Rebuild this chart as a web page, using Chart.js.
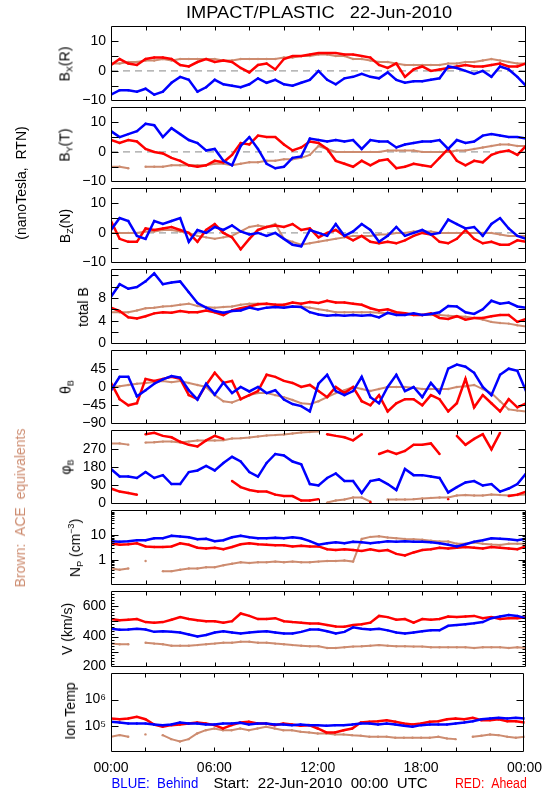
<!DOCTYPE html>
<html>
<head>
<meta charset="utf-8">
<script src="https://cdn.jsdelivr.net/npm/chart.js@4"></script>
<style>
body{margin:0;background:#fff;width:550px;height:800px;position:relative;overflow:hidden;font-family:"Liberation Sans",Arial,sans-serif;}
canvas{position:absolute;left:0;}
.t{position:absolute;white-space:nowrap;line-height:1;font-size:14px;color:#000;}
.rot{transform:translate(-50%,-50%) rotate(-90deg);}
sub{font-size:9px;vertical-align:-3px;}
sup{font-size:9px;vertical-align:6px;}
</style>
</head>
<body>
<script>
// time axis, hours from 00:00
const hours = [0,0.5,1,1.5,2,2.5,3,3.5,4,4.5,5,5.5,6,6.5,7,7.5,8,8.5,9,9.5,10,10.5,11,11.5,12,
  12.5,13,13.5,14,14.5,15,15.5,16,16.5,17,17.5,18,18.5,19,19.5,20,20.5,21,21.5,22,22.5,23,23.5,24];

// Bx (R)
const bxBlue = [-8,-6.5,-6.5,-7,-6,-8,-7,-4,-2,-3,-7,-5.5,-3,-4.5,-5,-5.5,-4.5,-2.5,-4,-3,-4.5,-5,-4,-3,0,
  -3,-4.5,-2.5,-2,-1,-2,-2.5,-0.5,-3,-4,-3.5,-3.5,-3,-2.5,1.5,1,0,-1,0,-2,1.5,0.5,-2,-5];
const bxRed = [2,4,2.5,2,4,4.5,4.5,4,2,1.5,3,4,3,3.5,3,1,-0.5,2,2.5,0.5,4,5,5,5.5,6,
  6,6,5.5,5.5,5,4.5,2,1,2.5,-2,0.5,1.5,0,0.5,1,1.5,2,1.5,1.5,2,2.5,1.5,1.5,2.5];
const bxBrown = [2.5,2.5,3,3,3.5,3.5,4,3.5,4,4,4,4,4,3.5,3.5,4,4,4,4,4,4.5,4.5,5,5,5.5,
  5.5,5,5,4,4,3.5,3,3,2.5,2,2,2,2,2,2.5,2.5,3,3,3.5,4,3.5,3,2.5,2.5];

// By (T)
const byBlue = [7,5,6,7,9.5,9,5,8,6,4,3,0.5,1,-3,-4.5,2,5,1,-4,-5.5,-5,-2,-1.5,4.5,4,
  3.5,4,3.5,4,1,4,3.5,3.5,1.5,2.5,3,3.5,3.5,4,1,4,3,3.5,5.5,6,5.5,5,5,4.5];
const byRed = [4,3,4,3.5,1,0,-0.5,-2,-3,-4.5,-5,-4.5,-3,-3.5,-1,3,2.5,5.5,5,5,2.5,0.5,1.5,3.5,3,
  1,-3,-4,-5,-3,-4.5,-3,-2.5,-5.5,-5,-4,-4.5,-5,-2,1,-3,-4.5,-3,-3.5,-1,0,0.5,-1,2];
const byBrown = [-5,-5,-5.5,null,-5,-5,-5,-4.5,-4.5,-4.5,-4.5,-4.5,-4,-4,-4.5,-4,-3.5,-3.5,-3,-3,-2.5,-2.5,-2,-1,2,
  1,0,0,0,0,0,0,0.5,0.5,0.5,0.5,0,0,0,0,0.5,0.5,1,1.5,2,2.5,2.5,2,2];

// Bz (N)
const bzBlue = [1,5,4,-1,-2,4,3,4,5,-3,1,0,2,1,2.5,0.5,-0.5,0,-1,0,-2,-4,-4.5,1,0,
  -1,3,-1,0.5,3,1,-3,-1,2,-1,0,1,-0.5,0,4.5,3,1.5,2,-1,3,5,1.5,-1,-2];
const bzRed = [4,-2,-3,-3,1.5,1,1.5,2,1,0,-3,1,3,0,-1.5,-5.5,-2,1,2,2.5,2,3,1,1.5,-1.5,
  0,1,-1,-2.5,-1,-3,-3.5,-3,-3.5,-2.5,-1,0,-0.5,-3,-3.5,-2,1,-2,-3.5,-3,-4,-4,-2.5,-3];
const bzBrown = [0,0,0,0,0.5,0.5,1,1,0.5,0,-1,-1.5,-2,-1.5,-1,0.5,2,2.5,2,3,-2,-3,-4,-3.5,-3,
  -2.5,-2,-1.5,-1,-1,-1,-0.5,-0.5,0,0,0.5,0.5,0.5,0,0,0,0,0,0,0,-0.5,-1,-1,-1];

// total B
const btBlue = [8.2,10.4,9.6,9.9,10.9,12.3,10.4,10.7,10.9,9.0,7.1,6.3,5.7,5.4,5.7,5.8,6.3,6.0,6.3,6.4,6.3,6.5,6.4,5.5,5.1,
  4.9,5.0,4.9,5.0,4.9,5.0,4.6,5.4,5.0,5.0,5.3,5.0,5.2,5.5,6.6,6.5,5.5,5.2,6.0,7.5,7.0,7.2,6.5,6.3];
const btRed = [6.3,5.7,4.6,4.4,4.8,5.3,5.5,5.4,5.7,5.5,5.5,5.8,5.5,5.0,5.8,6.2,6.5,6.9,7.0,6.8,6.8,7.2,7.0,7.3,7.1,
  7.5,7.2,7.2,7.0,6.8,6.2,5.8,6.0,5.5,5.3,5.0,5.0,5.3,4.5,4.3,4.8,4.2,4.5,4.5,4.8,5.0,5.0,3.8,4.3];
const btBrown = [5.5,5.5,5.5,5.8,6.2,6.3,6.5,6.6,6.8,7.0,6.6,6.4,6.3,6.4,6.5,6.8,7.0,7.0,7.0,6.8,6.5,6.5,6.5,6.3,6.0,
  5.8,5.5,5.5,5.5,5.5,5.5,5.4,5.3,5.3,5.3,5.2,5.0,5.0,5.0,4.9,4.8,4.7,4.5,4.2,3.8,3.6,3.5,3.2,3.0];

// theta B
const thBlue = [-8,25,25,-23,-8,8,19,27,23,-8,-31,8,-19,11,-15,0,-11,0,-15,-8,-31,-42,-47,-60,8,
  30,-10,-20,-10,25,-25,-40,0,30,-10,0,-25,10,-15,45,55,50,35,0,-20,30,45,40,-10];
const thRed = [10,-30,-45,-40,20,15,20,25,20,-20,-30,5,35,10,15,-30,-20,-10,30,25,15,10,0,5,-10,
  -25,0,-15,0,-35,-45,-20,-60,-40,-30,-30,-45,-20,-30,-60,-40,20,-50,-20,-40,-60,-30,-50,-40];
const thBrown = [0,2,5,8,10,12,15,12,15,10,5,0,-20,-35,-38,-30,-20,-15,-15,-20,-25,-32,-40,-42,-35,
  -25,-15,-8,0,-5,-10,-5,0,0,0,-2,-5,-5,-5,-5,0,2,5,-5,-15,-35,-55,-58,-60];

// phi B
const phBlue = [170,133,133,126,155,126,140,96,96,155,163,185,163,200,230,207,155,133,200,244,237,207,193,96,89,
  126,148,111,111,52,111,119,96,67,170,140,140,133,126,55,81,104,111,89,96,59,74,96,148];
const phRed = [74,59,52,44,341,348,333,326,304,289,281,311,333,318,111,81,67,59,59,44,37,37,15,15,22,
  341,333,326,311,341,7,244,259,244,259,289,289,296,244,22,333,289,318,341,267,348,37,44,59];
const phBrown = [296,296,290,null,300,302,305,305,300,305,310,310,310,312,320,322,325,330,335,337,340,345,350,352,355,
  5,15,20,30,30,10,null,20,20,20,22,25,28,30,30,40,42,40,40,45,42,40,42,45];

// Np (cm^-3)
const npBlue = [5.7,5.4,5.7,6.2,6.2,7.5,7.5,9.5,8.9,8.2,6.8,7.1,5.7,6.2,8.2,9.5,8.2,7.5,7.5,7.8,7.5,8.2,7.5,5.7,4.1,
  4.7,5.1,4.7,5.4,5.1,4.7,5.1,5.7,5.4,5.7,5.4,5.4,5.1,4.7,4.1,3.5,4.3,5.4,6.2,7.5,7.1,6.8,6.2,7.1];
const npRed = [4.7,4.1,4.3,4.7,3.5,3.3,3.3,3.5,4.7,4.1,3.1,2.9,3.1,2.7,3.3,4.3,4.7,4.3,4.1,3.9,3.9,3.5,3.7,3.5,3.5,
  2.7,2.5,2.7,2.5,2.3,2.7,2.3,2.5,1.75,1.5,2.0,2.5,2.7,3.1,2.9,3.1,3.3,3.1,2.9,3.3,3.1,2.9,2.7,3.5];
const npBrown = [0.45,0.4,0.45,null,0.9,null,0.35,0.35,0.4,0.45,0.45,0.5,0.5,0.6,0.7,0.8,0.75,0.8,0.8,0.85,0.8,0.85,0.8,0.8,0.85,
  0.9,0.9,0.95,0.85,7,8.5,9,8,7.5,7,6.8,6.5,6,5.5,5.5,4.5,4.5,5,4.5,4.2,4,4.5,4.5,4.5];

// V (km/s)
const vBlue = [451,445,447,451,447,431,435,431,427,414,400,410,427,435,427,420,427,431,435,427,420,420,431,447,447,
  435,420,431,461,451,447,451,441,427,420,427,435,441,441,471,476,482,488,496,522,533,543,537,522];
const vRed = [516,508,512,516,496,492,496,512,529,516,508,502,502,492,502,553,537,516,516,522,502,496,492,486,486,
  476,467,465,476,482,492,537,529,512,516,492,516,512,516,533,529,533,537,522,529,516,522,522,529];
const vBrown = [353,349,349,null,359,353,349,339,339,339,343,349,353,359,359,365,365,359,359,353,349,343,339,335,335,
  324,324,329,333,335,339,343,339,335,335,333,333,329,329,329,329,329,324,329,329,329,324,329,324];

// Ion temperature (K)
const tBlue = [142e3,134e3,123e3,123e3,123e3,112e3,106e3,112e3,134e3,123e3,123e3,112e3,112e3,123e3,123e3,130e3,112e3,123e3,123e3,112e3,112e3,106e3,112e3,106e3,106e3,
  100e3,106e3,106e3,112e3,123e3,123e3,112e3,123e3,112e3,100e3,92e3,106e3,112e3,112e3,112e3,123e3,134e3,150e3,179e3,190e3,201e3,190e3,201e3,190e3];
const tRed = [190e3,179e3,190e3,220e3,179e3,112e3,92e3,106e3,112e3,123e3,134e3,123e3,106e3,79e3,106e3,134e3,142e3,123e3,123e3,106e3,123e3,112e3,100e3,106e3,79e3,
  56e3,56e3,68e3,79e3,134e3,142e3,150e3,164e3,142e3,123e3,112e3,123e3,142e3,150e3,179e3,190e3,179e3,201e3,164e3,164e3,179e3,150e3,150e3,134e3];
const tBrown = [38e3,44e3,38e3,null,47e3,null,44e3,31e3,25e3,31e3,51e3,68e3,79e3,68e3,68e3,79e3,68e3,79e3,92e3,79e3,68e3,68e3,59e3,56e3,51e3,
  51e3,47e3,47e3,44e3,42e3,38e3,38e3,38e3,35e3,35e3,35e3,35e3,35e3,38e3,33e3,31e3,null,38e3,42e3,47e3,44e3,38e3,35e3,38e3];

// tick labels
const timeLabels = [0,6,12,18,24];
const bLabels = [-10,0,10];
const btLabels = [0,4,8];
const thLabels = [-90,-45,0,45];
const phLabels = [0,90,180,270];
const npLabels = [1,10];
const vLabels = [200,400,600];
const tLabels = [1e5,1e6];

const BLUE = '#0000ff', RED = '#ff0000', BROWN = 'rgb(205,140,112)';
const FONT = {family:'"Liberation Sans", Arial, sans-serif', size:14};
const PAD = 10;

const vMinor = [];
for (let v = 220; v < 700; v += 20) if (v % 100) vMinor.push(v);
const npMinor = [];
[0.1,1,10].forEach(d => { for (let k = 2; k <= 9; k++) npMinor.push(d*k); });

const panels = [
  {top:23,  h:81, type:'linear', min:-10, max:15, labels:bLabels, major:[-5,0,5,10], minor:[], zero:true,
   s:[bxBlue,bxRed,bxBrown], title:'B<sub>X</sub>(R)', tx:66},
  {top:104, h:81, type:'linear', min:-10, max:15, labels:bLabels, major:[-5,0,5,10], minor:[], zero:true,
   s:[byBlue,byRed,byBrown], title:'B<sub>Y</sub>(T)', tx:66},
  {top:185, h:81, type:'linear', min:-10, max:15, labels:bLabels, major:[-5,0,5,10], minor:[], zero:true,
   s:[bzBlue,bzRed,bzBrown], title:'B<sub>Z</sub>(N)', tx:66},
  {top:266, h:81, type:'linear', min:0, max:13, labels:btLabels, major:[2,4,6,8,10,12], minor:[],
   s:[btBlue,btRed,btBrown], title:'total B', tx:83},
  {top:347, h:80, type:'linear', min:-90, max:90, labels:thLabels, major:[-45,0,45], minor:[],
   s:[thBlue,thRed,thBrown], title:'&theta;<sub>B</sub>', tx:67},
  {top:427, h:80, type:'linear', min:0, max:360, labels:phLabels, major:[90,180,270], minor:[], wrap:true,
   s:[phBlue,phRed,phBrown], title:'&phi;<sub>B</sub>', tx:67},
  {top:507, h:81, type:'logarithmic', min:0.1, max:100, labels:npLabels, major:[1,10], minor:npMinor,
   s:[npBlue,npRed,npBrown], title:'N<sub>P</sub> (cm<sup>&minus;3</sup>)', tx:76},
  {top:588, h:82, type:'linear', min:200, max:700, labels:vLabels, major:[300,400,500,600], minor:vMinor,
   s:[vBlue,vRed,vBrown], title:'V (km/s)', tx:67},
  {top:670, h:82, type:'logarithmic', min:1e4, max:1e7, labels:tLabels, major:[1e5,1e6], minor:[],
   s:[tBlue,tRed,tBrown], title:'Ion Temp', tx:70, last:true}
];

// IDL style frame with inward ticks
const idlFrame = {
  id: 'idlFrame',
  afterDatasetsDraw(chart, args, opts) {
    const ctx = chart.ctx, a = chart.chartArea, x = chart.scales.x, y = chart.scales.y;
    const L = Math.round(a.left) + 0.5, R = Math.round(a.right) - 0.5;
    const T = Math.round(a.top) + 0.5, B = Math.round(a.bottom) - 0.5;
    ctx.save();
    ctx.strokeStyle = '#000';
    ctx.lineWidth = 1;
    ctx.beginPath();
    ctx.rect(L, T, R - L, B - T);
    const mark = (v, len) => {
      const py = Math.round(y.getPixelForValue(v)) + 0.5;
      ctx.moveTo(L, py); ctx.lineTo(L + len, py);
      ctx.moveTo(R, py); ctx.lineTo(R - len, py);
    };
    opts.major.forEach(v => mark(v, 7));
    opts.minor.forEach(v => mark(v, 3));
    for (let hr = 2; hr < 24; hr += 2) {
      const px = Math.round(x.getPixelForValue(hr)) + 0.5;
      ctx.moveTo(px, T); ctx.lineTo(px, T + 4);
      ctx.moveTo(px, B); ctx.lineTo(px, B - 4);
    }
    ctx.stroke();
    ctx.restore();
  }
};
Chart.register(idlFrame);

function fmt(v) {
  if (v === 1e5) return '10\u2075';
  if (v === 1e6) return '10\u2076';
  return String(v).replace('-', '\u2212');
}

function line(arr, color, w, wrap) {
  const ds = {
    data: arr.map((v, i) => ({x: hours[i], y: v})),
    borderColor: color,
    backgroundColor: color,
    borderWidth: w,
    pointRadius: 1.2,
    pointBorderWidth: 0,
    tension: 0,
    spanGaps: false
  };
  if (wrap) ds.segment = {borderColor: c => Math.abs(c.p1.parsed.y - c.p0.parsed.y) > 150 ? 'rgba(0,0,0,0)' : undefined};
  return ds;
}

panels.forEach(p => {
  const xh = p.last ? 30 : 0;
  const c = document.createElement('canvas');
  c.width = 550;
  c.height = p.h + PAD + (p.last ? xh : PAD);
  c.style.top = (p.top - PAD) + 'px';
  document.body.appendChild(c);

  const datasets = [line(p.s[0], BLUE, 2.5, p.wrap), line(p.s[1], RED, 2.5, p.wrap), line(p.s[2], BROWN, 2, p.wrap)];
  if (p.zero) datasets.push({data:[{x:0,y:0},{x:24,y:0}], borderColor:'#888', borderWidth:1,
    borderDash:[7,5], pointRadius:0});

  new Chart(c, {
    type: 'line',
    data: {datasets},
    options: {
      responsive: false,
      animation: false,
      events: [],
      layout: {padding: {top: PAD, bottom: p.last ? 0 : PAD, left: 0, right: 24}},
      plugins: {
        legend: {display: false},
        tooltip: {enabled: false},
        idlFrame: {major: p.major, minor: p.minor}
      },
      scales: {
        x: {
          type: 'linear', min: 0, max: 24,
          display: !!p.last,
          grid: {display: false, drawTicks: false},
          border: {display: false},
          afterFit: s => { s.height = xh; },
          afterBuildTicks: s => { s.ticks = timeLabels.map(v => ({value: v})); },
          ticks: {
            font: FONT, color: '#000', padding: 8, maxRotation: 0, autoSkip: false,
            callback: v => String(v % 24).padStart(2, '0') + ':00'
          }
        },
        y: {
          type: p.type, min: p.min, max: p.max,
          grid: {display: false, drawTicks: false},
          border: {display: false},
          afterFit: s => { s.width = 111; },
          afterBuildTicks: s => { s.ticks = p.labels.map(v => ({value: v})); },
          ticks: {font: FONT, color: '#000', padding: 5, autoSkip: false, callback: v => fmt(v)}
        }
      }
    }
  });

  const t = document.createElement('div');
  t.className = 't rot';
  t.innerHTML = p.title;
  t.style.left = p.tx + 'px';
  t.style.top = (p.top + p.h / 2) + 'px';
  document.body.appendChild(t);
});

function addText(html, x, y, color, size, width, rotate) {
  const d = document.createElement('div');
  d.className = 't' + (rotate ? ' rot' : '');
  d.innerHTML = html;
  d.style.color = color;
  d.style.fontSize = size + 'px';
  document.body.appendChild(d);
  if (rotate) {
    d.style.left = x + 'px';
    d.style.top = y + 'px';
  } else {
    const sx = width ? width / d.offsetWidth : 1;
    d.style.left = (x - d.offsetWidth / 2) + 'px';
    d.style.top = (y - d.offsetHeight / 2) + 'px';
    d.style.transform = 'scaleX(' + sx + ')';
  }
}

addText('IMPACT/PLASTIC&nbsp;&nbsp;&nbsp;22-Jun-2010', 319, 12, '#000', 17, 266);
addText('(nanoTesla,&nbsp;&nbsp;RTN)', 21, 183, '#000', 14, 0, true);
addText('Brown:&nbsp;&nbsp;ACE&nbsp;&nbsp;equivalents', 20, 508, BROWN, 14, 0, true);
addText('BLUE:&nbsp;&nbsp;Behind', 155, 783, BLUE, 14, 87);
addText('Start:&nbsp;&nbsp;22-Jun-2010&nbsp;&nbsp;00:00&nbsp;&nbsp;UTC', 320, 783, '#000', 14, 214);
addText('RED:&nbsp;&nbsp;Ahead', 491, 783, RED, 14, 72);
</script>
</body>
</html>
